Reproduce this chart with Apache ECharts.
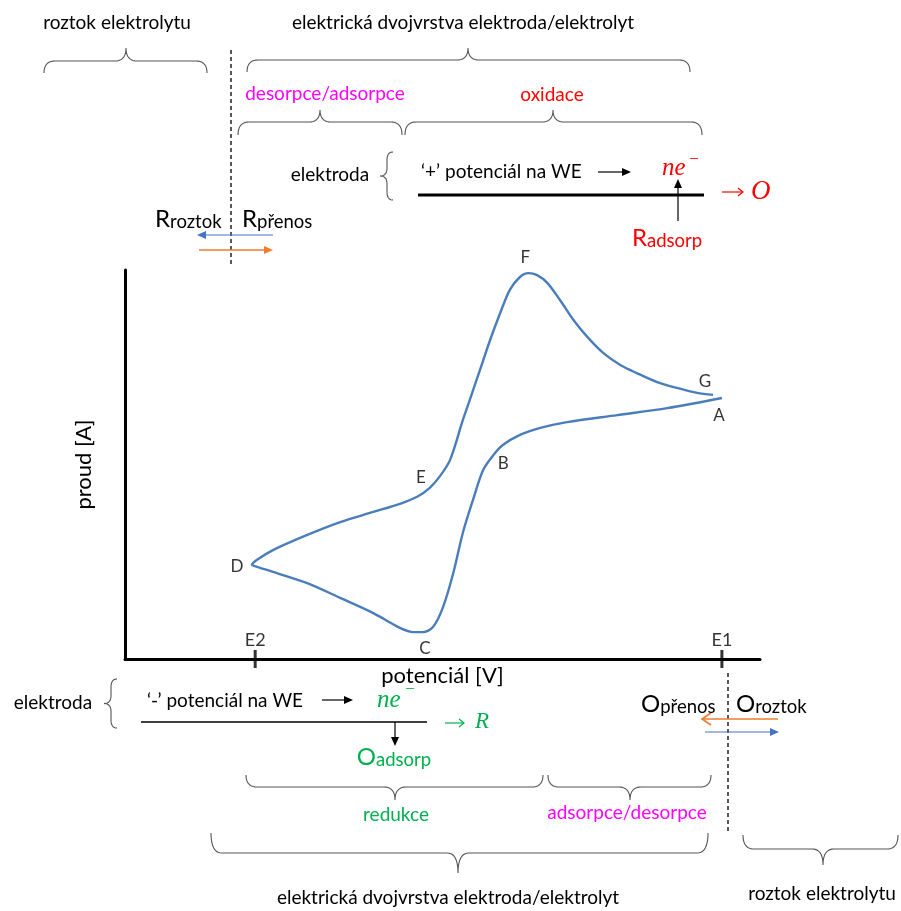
<!DOCTYPE html>
<html>
<head>
<meta charset="utf-8">
<script src="https://cdn.jsdelivr.net/npm/echarts@6/dist/echarts.min.js"></script>
<style>
  html, body { margin: 0; padding: 0; background: #ffffff; }
  #chart { width: 901px; height: 911px; }
</style>
</head>
<body>
<div id="chart"></div>
<script>
// Cyclic voltammogram, one closed cycle:
// forward (cathodic) sweep A → B → C → D, reverse (anodic) sweep D → E → F → G
const potential = [9.40, 8.54, 7.75, 6.96, 6.54, 6.22, 5.95, 5.80, 5.64, 5.48, 5.32, 5.17, 5.01, 4.85,
                   4.69, 4.54, 4.33, 3.91, 3.39, 2.87, 2.33, 2.08, 2.00,
                   2.08, 2.33, 2.87, 3.39, 3.91, 4.33, 4.60, 4.80, 4.96, 5.12, 5.32, 5.43, 5.59, 5.75,
                   5.91, 6.06, 6.22, 6.35, 6.49, 6.65, 6.85, 7.06, 7.28, 7.53, 7.80, 8.06, 8.38, 8.69,
                   9.01, 9.26];
const current   = [6.71, 6.45, 6.27, 6.09, 5.94, 5.76, 5.50, 5.24, 4.86, 4.09, 3.24, 2.21, 1.34, 0.82,
                   0.69, 0.69, 0.80, 1.18, 1.57, 1.95, 2.24, 2.37, 2.42,
                   2.55, 2.80, 3.19, 3.52, 3.78, 3.99, 4.17, 4.40, 4.70, 5.12, 6.14, 6.66, 7.43, 8.20,
                   8.90, 9.49, 9.82, 9.92, 9.87, 9.67, 9.23, 8.72, 8.28, 7.87, 7.56, 7.35, 7.12, 6.97,
                   6.84, 6.79];

// Named points along the cycle (index into the arrays above)
const pointNames = ['A', 'B', 'C', 'D', 'E', 'F', 'G'];
const pointIndex = [0, 7, 14, 22, 30, 40, 52];

// Switching potentials marked on the potential axis
const switchNames = ['E2', 'E1'];
const switchPotential = [2.05, 9.40];

const FONT = 'Lato, "Open Sans", sans-serif';
const MATH = '"Liberation Serif", "DejaVu Serif", serif';
const MAGENTA = '#ff00ff', RED = '#ff0000', GREEN = '#00b050';
const BLUE_ARROW = '#4472c4', ORANGE_ARROW = '#ed7d31';
const BRACE = '#555555';
const TXT = 19;

// label offsets for each named point, in pixels
const pointLabelOffset = {
  A: [-3, 18], B: [10, 8], C: [2, 16], D: [-15, 2], E: [-9, -10], F: [-3, -16], G: [-8, -13]
};

const curveData = potential.map((p, i) => [p, current[i]]);
const pointData = pointNames.map((n, k) => ({
  name: n,
  value: [potential[pointIndex[k]], current[pointIndex[k]]],
  label: { offset: pointLabelOffset[n] }
}));
const switchData = switchNames.map((n, k) => ({ name: n, value: [switchPotential[k], 0] }));

// ---------- annotation helpers ----------
function txt(x, y, text, size, color, extra) {
  return {
    type: 'text', x: x, y: y, z: 20,
    style: Object.assign({
      text: text, fontSize: size, fontFamily: FONT, fill: color || '#000',
      align: 'center', verticalAlign: 'middle'
    }, extra || {})
  };
}
// big capital followed by a smaller word
function capWord(x, y, cap, word, color, align) {
  return {
    type: 'text', x: x, y: y, z: 20,
    style: {
      text: '{c|' + cap + '}{w|' + word + '}',
      align: align || 'left', verticalAlign: 'middle',
      fill: color,
      rich: {
        c: { fontSize: 24, fontFamily: FONT, fill: color, verticalAlign: 'bottom', lineHeight: 27 },
        w: { fontSize: 18.5, fontFamily: FONT, fill: color, verticalAlign: 'bottom', lineHeight: 25 }
      }
    }
  };
}
// sample a quadratic bezier into points (without its first point)
function qb(p0, p1, p2, n) {
  const out = [];
  for (let i = 1; i <= n; i++) {
    const t = i / n, u = 1 - t;
    out.push([u * u * p0[0] + 2 * u * t * p1[0] + t * t * p2[0], u * u * p0[1] + 2 * u * t * p1[1] + t * t * p2[1]]);
  }
  return out;
}
function bracePoly(pts) {
  return { type: 'polyline', z: 15, shape: { points: pts }, style: { fill: 'none', stroke: BRACE, lineWidth: 1.1 } };
}
// horizontal curly brace: ends at yEnd, straight part at yH, tip at (xm, yTip)
function hBrace(x1, x2, xm, yEnd, yH, yTip) {
  const r = 11, n = 10;
  let pts = [[x1, yEnd]];
  pts = pts.concat(qb([x1, yEnd], [x1, yH], [x1 + r, yH], n));
  pts.push([xm - r, yH]);
  pts = pts.concat(qb([xm - r, yH], [xm, yH], [xm, yTip], n));
  pts = pts.concat(qb([xm, yTip], [xm, yH], [xm + r, yH], n));
  pts.push([x2 - r, yH]);
  pts = pts.concat(qb([x2 - r, yH], [x2, yH], [x2, yEnd], n));
  return bracePoly(pts);
}
// vertical "{" brace
function vBrace(xEnd, xC, xTip, y1, y2) {
  const r = 8, n = 10, ym = (y1 + y2) / 2;
  let pts = [[xEnd, y1]];
  pts = pts.concat(qb([xEnd, y1], [xC, y1], [xC, y1 + r], n));
  pts.push([xC, ym - r]);
  pts = pts.concat(qb([xC, ym - r], [xC, ym], [xTip, ym], n));
  pts = pts.concat(qb([xTip, ym], [xC, ym], [xC, ym + r], n));
  pts.push([xC, y2 - r]);
  pts = pts.concat(qb([xC, y2 - r], [xC, y2], [xEnd, y2], n));
  return bracePoly(pts);
}
function arrow(x1, y1, x2, y2, color, width, open, headLen, headW) {
  const L = headLen || 9, W = headW || 4;
  const len = Math.hypot(x2 - x1, y2 - y1);
  const dx = (x2 - x1) / len, dy = (y2 - y1) / len;
  const bx = x2 - dx * L, by = y2 - dy * L;
  const nx = -dy, ny = dx;
  const els = [];
  els.push({ type: 'line', z: 15, shape: { x1: x1, y1: y1, x2: open ? x2 : bx, y2: open ? y2 : by },
             style: { stroke: color, lineWidth: width } });
  const pts = [[bx + nx * W, by + ny * W], [x2, y2], [bx - nx * W, by - ny * W]];
  if (open) {
    els.push({ type: 'polyline', z: 15, shape: { points: pts }, style: { stroke: color, lineWidth: width, fill: 'none' } });
  } else {
    els.push({ type: 'polygon', z: 15, shape: { points: pts }, style: { fill: color } });
  }
  return els;
}
function dashed(x, y1, y2) {
  return { type: 'line', z: 15, shape: { x1: x, y1: y1, x2: x, y2: y2 },
           style: { stroke: '#000', lineWidth: 1.3, lineDash: [4, 3] } };
}
function solid(x1, y1, x2, y2, w) {
  return { type: 'line', z: 15, shape: { x1: x1, y1: y1, x2: x2, y2: y2 }, style: { stroke: '#000', lineWidth: w } };
}
function mathText(x, y, text, size, color, align) {
  return txt(x, y, text, size, color, { fontFamily: MATH, fontStyle: 'italic', align: align || 'left' });
}

const graphics = [].concat(
  // ----- top: electrolyte / double layer -----
  txt(117, 23, 'roztok elektrolytu', TXT),
  hBrace(44, 207, 126, 73, 61, 48),
  txt(463, 23, 'elektrická dvojvrstva elektroda/elektrolyt', TXT),
  hBrace(247, 690, 468, 72, 60, 48),
  dashed(231, 50, 267),
  txt(325, 94, 'desorpce/adsorpce', TXT, MAGENTA),
  hBrace(238, 402, 320, 135, 122, 110),
  txt(552, 95, 'oxidace', TXT, RED),
  hBrace(405, 702, 553, 135, 122, 110),
  txt(330, 175, 'elektroda', TXT),
  vBrace(393, 387, 380, 152, 200),
  txt(421, 172, '‘+’ potenciál na WE', TXT, '#000', { align: 'left' }),
  arrow(598, 172, 631, 172, '#000', 1.2),
  mathText(662, 168, 'ne', 25, RED),
  txt(694, 160, '−', 17, RED, { fontFamily: MATH }),
  solid(418, 195, 704, 195, 3.2),
  arrow(722, 192, 743, 192, RED, 1.2, true, 5, 4),
  mathText(751, 192, 'O', 27, RED),
  arrow(678, 221, 678, 179, '#000', 1.2),
  capWord(667, 237, 'R', 'adsorp', RED, 'center'),
  capWord(155, 218, 'R', 'roztok', '#000'),
  capWord(242, 218, 'R', 'přenos', '#000'),
  arrow(273, 235, 197, 235, BLUE_ARROW, 1.2),
  arrow(199, 250, 273, 250, ORANGE_ARROW, 1.6),

  // ----- bottom: electrode / double layer / electrolyte -----
  txt(53, 703, 'elektroda', TXT),
  vBrace(117, 111, 104, 679, 728),
  txt(147, 701, '‘-’ potenciál na WE', TXT, '#000', { align: 'left' }),
  arrow(322, 700, 353, 700, '#000', 1.2),
  mathText(377, 700, 'ne', 25, GREEN),
  txt(410, 690, '−', 17, GREEN, { fontFamily: MATH }),
  solid(141, 722, 427, 722, 1.5),
  arrow(445, 723, 464, 723, GREEN, 1.2, true, 5, 4),
  mathText(475, 722, 'R', 23, GREEN),
  arrow(395, 722, 395, 746, '#000', 1.2),
  capWord(394, 756, 'O', 'adsorp', GREEN, 'center'),
  hBrace(246, 543, 395, 775, 787, 800),
  txt(396, 815, 'redukce', TXT, GREEN),
  hBrace(548, 711, 630, 775, 787, 800),
  txt(627, 813, 'adsorpce/desorpce', TXT, MAGENTA),
  hBrace(211, 708, 458, 833, 853, 873),
  txt(448, 898, 'elektrická dvojvrstva elektroda/elektrolyt', TXT),
  dashed(728, 673, 834),
  capWord(641, 703, 'O', 'přenos', '#000'),
  capWord(736, 703, 'O', 'roztok', '#000'),
  arrow(778, 719, 702, 719, ORANGE_ARROW, 1.6, true, 9, 6),
  arrow(705, 732, 779, 732, BLUE_ARROW, 1.2),
  hBrace(743, 898, 823, 835, 849, 865),
  txt(822, 894, 'roztok elektrolytu', TXT)
);

const chart = echarts.init(document.getElementById('chart'), null, { renderer: 'canvas' });
chart.setOption({
  animation: false,
  backgroundColor: '#ffffff',
  grid: { left: 125, right: 141, top: 270, bottom: 252 },
  xAxis: {
    type: 'value', min: 0, max: 10,
    name: 'potenciál [V]', nameLocation: 'middle', nameGap: 6,
    nameTextStyle: { fontSize: 22, fontFamily: FONT, color: '#000', verticalAlign: 'top' },
    axisLine: { lineStyle: { color: '#000', width: 3 } },
    axisTick: { show: false }, axisLabel: { show: false }, splitLine: { show: false }
  },
  yAxis: {
    type: 'value', min: 0, max: 10,
    name: 'proud [A]', nameLocation: 'middle', nameGap: 30,
    nameTextStyle: { fontSize: 22, fontFamily: FONT, color: '#000' },
    axisLine: { lineStyle: { color: '#000', width: 3 } },
    axisTick: { show: false }, axisLabel: { show: false }, splitLine: { show: false }
  },
  series: [
    {
      type: 'line', data: curveData, smooth: 0.3, symbol: 'none',
      lineStyle: { color: '#4a7ebb', width: 2.4 }, z: 5
    },
    {
      type: 'scatter', data: pointData, symbolSize: 0, z: 6,
      label: { show: true, position: 'inside', formatter: '{b}', fontSize: 17, fontFamily: FONT, color: '#000' }
    },
    {
      type: 'scatter', data: switchData, symbol: 'rect', symbolSize: [3, 18], clip: false, z: 7,
      itemStyle: { color: '#000' },
      label: { show: true, position: 'top', distance: 1, formatter: '{b}', fontSize: 18, fontFamily: FONT, color: '#000' }
    }
  ],
  graphic: { elements: graphics }
});
</script>
</body>
</html>
